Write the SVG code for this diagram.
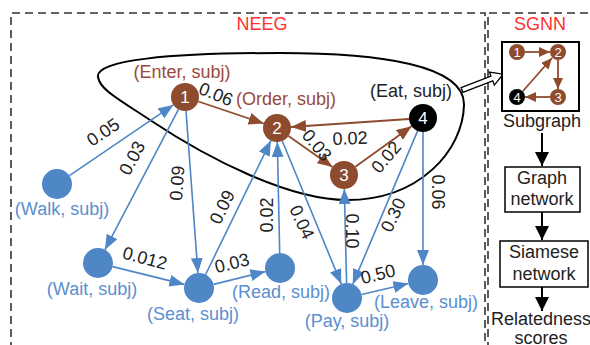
<svg xmlns="http://www.w3.org/2000/svg" width="590" height="345" viewBox="0 0 590 345">
<style>
text{font-family:"Liberation Sans",Arial,sans-serif;font-size:18px;}
.dash{fill:none;stroke:#333;stroke-width:1.6;stroke-dasharray:8,5;}
.be{fill:none;stroke:#4f86c6;stroke-width:1.6;}
.re{fill:none;stroke:#8e4b2e;stroke-width:1.8;}
.bn{fill:#4f86c6;}
.rn{fill:#8e4b2e;}
.kn{fill:#000;}
.dig{fill:#fff;text-anchor:middle;font-size:17px;}
.sdig{fill:#fff;text-anchor:middle;font-size:13px;}
.bl{fill:#5a8fd0;text-anchor:middle;}
.rl{fill:#9a4a3a;text-anchor:middle;}
.kl{fill:#222;text-anchor:middle;}
.num{fill:#222;text-anchor:middle;}
.box{fill:#fff;stroke:#000;stroke-width:1.5;}
.ka{fill:none;stroke:#000;stroke-width:2;}
</style>
<defs>
<marker id="ab" markerUnits="userSpaceOnUse" markerWidth="15" markerHeight="12" refX="15" refY="6" orient="auto"><path d="M0,0 L15,6 L0,12 Z" fill="#4f86c6"/></marker>
<marker id="ar" markerUnits="userSpaceOnUse" markerWidth="15" markerHeight="12" refX="15" refY="6" orient="auto"><path d="M0,0 L15,6 L0,12 Z" fill="#8e4b2e"/></marker>
<marker id="ars" markerUnits="userSpaceOnUse" markerWidth="11" markerHeight="10" refX="11" refY="5" orient="auto"><path d="M0,0 L11,5 L0,10 Z" fill="#8e4b2e"/></marker>
<marker id="ak" markerUnits="userSpaceOnUse" markerWidth="14" markerHeight="14" refX="14" refY="7" orient="auto"><path d="M0,0 L14,7 L0,14 Z" fill="#000"/></marker>
</defs>

<g id="frames">
<path class="dash" d="M11,350 V13 H485 V350"/>
<path class="dash" d="M488,350 V13 H592"/>
<text x="262" y="30" fill="#ff3030" text-anchor="middle">NEEG</text>
<text x="540" y="30" fill="#ff3030" text-anchor="middle">SGNN</text>
</g>

<g id="outline">
<path d="M98,77 C95,60 170,53 280,53 C380,53 465,65 464,105 C463,150 420,200 347,200 C290,200 210,160 150,120 C120,100 100,90 98,77 Z" fill="none" stroke="#000" stroke-width="2"/>
<polygon transform="translate(462,90) rotate(-21)" points="0,-2.5 32,-2.5 32,-7 44,0 32,7 32,2.5 0,2.5" fill="#fff" stroke="#000" stroke-width="1.3"/>
</g>

<g id="connectors">
<line class="be" x1="69.4" y1="175.6" x2="173.4" y2="104.9" marker-end="url(#ab)"/>
<line class="be" x1="178.5" y1="109.4" x2="105" y2="249.7" marker-end="url(#ab)"/>
<line class="be" x1="186" y1="111" x2="197.9" y2="273" marker-end="url(#ab)"/>
<line class="be" x1="205.6" y1="274.5" x2="270.9" y2="140.6" marker-end="url(#ab)"/>
<line class="be" x1="279.7" y1="253" x2="277.3" y2="142" marker-end="url(#ab)"/>
<line class="be" x1="282.3" y1="141" x2="341.3" y2="284.1" marker-end="url(#ab)"/>
<line class="be" x1="346.6" y1="283" x2="344.3" y2="189" marker-end="url(#ab)"/>
<line class="be" x1="417.6" y1="130.9" x2="352.8" y2="284.2" marker-end="url(#ab)"/>
<line class="be" x1="423" y1="132" x2="423" y2="265" marker-end="url(#ab)"/>
<line class="be" x1="112.6" y1="266.6" x2="184.4" y2="284.4" marker-end="url(#ab)"/>
<line class="be" x1="213.6" y1="284.4" x2="265.4" y2="271.6" marker-end="url(#ab)"/>
<line class="be" x1="361.6" y1="294.5" x2="408.4" y2="283.5" marker-end="url(#ab)"/>

<line class="re" x1="198.3" y1="101.5" x2="263.7" y2="123.5" marker-end="url(#ar)"/>
<line class="re" x1="409" y1="119" x2="291" y2="127" marker-end="url(#ar)"/>
<line class="re" x1="288.5" y1="136" x2="332.5" y2="167" marker-end="url(#ar)"/>
<line class="re" x1="355.4" y1="166.8" x2="411.6" y2="126.2" marker-end="url(#ar)"/>

<line class="ka" x1="542" y1="133" x2="542" y2="166" marker-end="url(#ak)"/>
<line class="ka" x1="542" y1="212" x2="542" y2="240" marker-end="url(#ak)"/>
<line class="ka" x1="542" y1="287" x2="542" y2="311" marker-end="url(#ak)"/>

<text class="num" transform="translate(103,132) rotate(-34)" dy="0.35em">0.05</text>
<text class="num" transform="translate(132,158) rotate(-62)" dy="0.35em">0.03</text>
<text class="num" transform="translate(177,183) rotate(-86)" dy="0.35em">0.09</text>
<text class="num" transform="translate(222,207) rotate(-64)" dy="0.35em">0.09</text>
<text class="num" transform="translate(267,215) rotate(-90)" dy="0.35em">0.02</text>
<text class="num" transform="translate(302,222) rotate(65)" dy="0.35em">0.04</text>
<text class="num" transform="translate(352,231) rotate(90)" dy="0.35em">0.10</text>
<text class="num" transform="translate(393,215) rotate(-65)" dy="0.35em">0.30</text>
<text class="num" transform="translate(438,192) rotate(90)" dy="0.35em">0.06</text>
<text class="num" transform="translate(145,258) rotate(15)" dy="0.35em">0.012</text>
<text class="num" transform="translate(232,263) rotate(-14)" dy="0.35em">0.03</text>
<text class="num" transform="translate(378,274) rotate(-14)" dy="0.35em">0.50</text>
<text class="num" transform="translate(216,94) rotate(22)" dy="0.35em">0.06</text>
<text class="num" transform="translate(350,138) rotate(-2)" dy="0.35em">0.02</text>
<text class="num" transform="translate(317,145) rotate(50)" dy="0.35em">0.03</text>
<text class="num" transform="translate(386,157) rotate(-50)" dy="0.35em">0.02</text>
</g>

<g id="n1"><circle class="rn" cx="185" cy="97" r="14"/><text class="dig" x="185" y="103">1</text><text class="rl" x="182" y="78">(Enter, subj)</text></g>
<g id="n2"><circle class="rn" cx="277" cy="128" r="14"/><text class="dig" x="277" y="134">2</text><text class="rl" x="286" y="105">(Order, subj)</text></g>
<g id="n3"><circle class="rn" cx="344" cy="175" r="14"/><text class="dig" x="344" y="181">3</text></g>
<g id="n4"><circle class="kn" cx="423" cy="118" r="14"/><text class="dig" x="423" y="124">4</text><text class="kl" x="411" y="97">(Eat, subj)</text></g>
<g id="walk"><circle class="bn" cx="57" cy="184" r="15"/><text class="bl" x="62" y="215">(Walk, subj)</text></g>
<g id="wait"><circle class="bn" cx="98" cy="263" r="15"/><text class="bl" x="92" y="295">(Wait, subj)</text></g>
<g id="seat"><circle class="bn" cx="199" cy="288" r="15"/><text class="bl" x="193" y="320">(Seat, subj)</text></g>
<g id="read"><circle class="bn" cx="280" cy="268" r="15"/><text class="bl" x="281" y="298">(Read, subj)</text></g>
<g id="pay"><circle class="bn" cx="347" cy="298" r="15"/><text class="bl" x="347" y="327">(Pay, subj)</text></g>
<g id="leave"><circle class="bn" cx="423" cy="280" r="15"/><text class="bl" x="426" y="308">(Leave, subj)</text></g>

<g id="subgraph">
<rect x="502" y="42" width="77" height="69" fill="#fff" stroke="#000" stroke-width="2"/>
<line class="re" x1="525" y1="52" x2="550" y2="52" marker-end="url(#ars)"/>
<line class="re" x1="558" y1="60" x2="558" y2="89" marker-end="url(#ars)"/>
<line class="re" x1="550" y1="97" x2="525" y2="97" marker-end="url(#ars)"/>
<line class="re" x1="523" y1="91" x2="552" y2="58" marker-end="url(#ars)"/>
<circle class="rn" cx="517" cy="52" r="8"/><text class="sdig" x="517" y="57">1</text>
<circle class="rn" cx="558" cy="52" r="8"/><text class="sdig" x="558" y="57">2</text>
<circle class="rn" cx="558" cy="97" r="8"/><text class="sdig" x="558" y="102">3</text>
<circle class="kn" cx="517" cy="97" r="8"/><text class="sdig" x="517" y="102">4</text>
<text class="kl" x="542" y="127">Subgraph</text>
</g>
<g id="graphnet">
<rect class="box" x="505" y="167" width="75" height="45"/>
<text class="kl" x="542" y="184">Graph</text>
<text class="kl" x="542" y="205">network</text>
</g>
<g id="siamese">
<rect class="box" x="500" y="241" width="88" height="46"/>
<text class="kl" x="544" y="258">Siamese</text>
<text class="kl" x="544" y="280">network</text>
</g>
<g id="scores">
<text class="kl" x="541" y="325">Relatedness</text>
<text class="kl" x="541" y="344">scores</text>
</g>
</svg>
